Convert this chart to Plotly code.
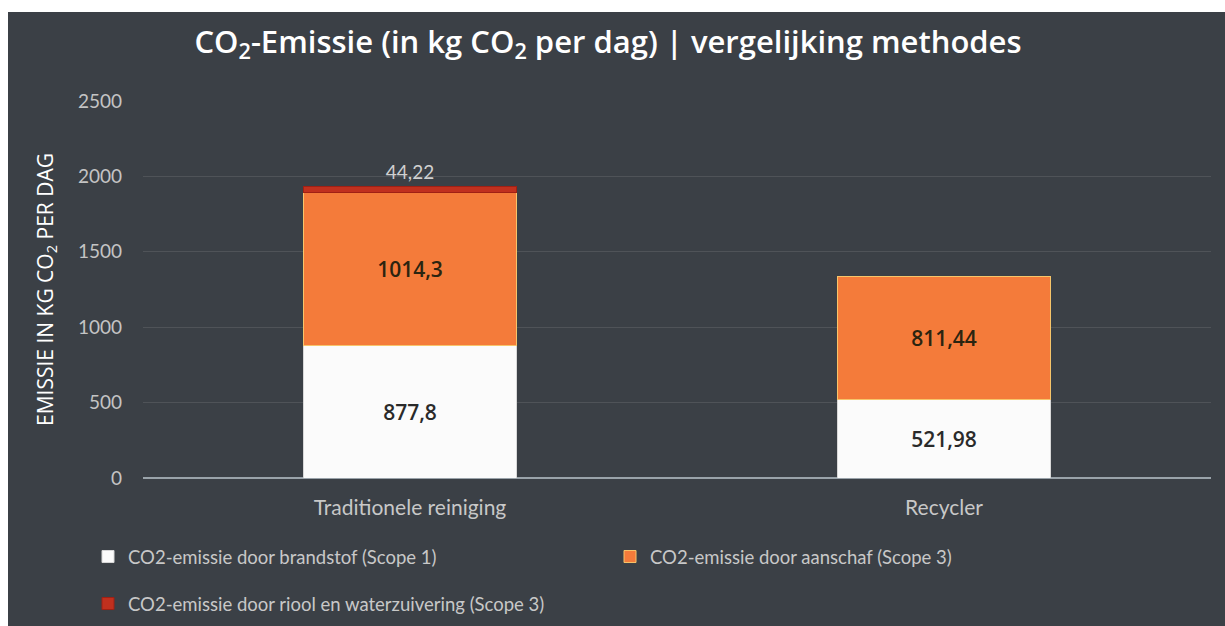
import plotly.graph_objects as go

categories = ["Traditionele reiniging", "Recycler"]
scope1_brandstof = [877.8, 521.98]
scope3_aanschaf = [1014.3, 811.44]
scope3_riool = [44.22, None]
series_names = [
    "CO2-emissie door brandstof (Scope 1)",
    "CO2-emissie door aanschaf (Scope 3)",
    "CO2-emissie door riool en waterzuivering (Scope 3)",
]
y_ticks = [0, 500, 1000, 1500, 2000, 2500]

W, H = 1225, 626
L, R, T, B = 143, 14, 101, 148
pw, ph = W - L - R, H - T - B

def px_to_paper_x(p):
    return (p - L) / pw

def px_to_paper_y(p):
    return (H - B - p) / ph

def fmt(v):
    if v is None:
        return ""
    return ("%g" % v).replace(".", ",")

fig = go.Figure()
fig.add_trace(go.Bar(
    x=categories, y=scope1_brandstof, name=series_names[0],
    marker=dict(color="#fbfbfb", line=dict(color="#d8d8d8", width=1)),
    text=[fmt(v) for v in scope1_brandstof], textposition="inside",
    insidetextanchor="middle",
    textfont=dict(color="#2a2a2a", size=21, family="Open Sans", weight=600),
    legend="legend",
))
fig.add_trace(go.Bar(
    x=categories, y=scope3_aanschaf, name=series_names[1],
    marker=dict(color="#f47b3a", line=dict(color="#f7c56a", width=1)),
    text=[fmt(v) for v in scope3_aanschaf], textposition="inside",
    insidetextanchor="middle",
    textfont=dict(color="#2a2410", size=21, family="Open Sans", weight=600),
    legend="legend",
))
fig.add_trace(go.Bar(
    x=categories, y=scope3_riool, name=series_names[2],
    marker=dict(color="#c0301e", line=dict(color="#a02014", width=1)),
    text=[fmt(v) for v in scope3_riool], textposition="outside",
    textfont=dict(color="#d0d0d0", size=19, family="Lato"),
    cliponaxis=False,
    legend="legend2",
))

bg = "#3b4046"
fig.add_shape(type="rect", xref="paper", yref="paper", layer="below",
              x0=px_to_paper_x(8), x1=px_to_paper_x(W + 2),
              y0=px_to_paper_y(H + 2), y1=px_to_paper_y(12),
              fillcolor=bg, line=dict(width=0))

fig.update_layout(
    width=W, height=H,
    margin=dict(l=L, r=R, t=T, b=B, autoexpand=False),
    paper_bgcolor="white", plot_bgcolor="rgba(0,0,0,0)",
    barmode="stack", bargap=0.6,
    separators=",.",
    title=dict(
        text="CO<sub>2</sub>-Emissie (in kg CO<sub>2</sub> per dag) | vergelijking methodes",
        xref="container", x=608 / W, xanchor="center",
        yref="container", y=1 - 42 / H, yanchor="middle",
        font=dict(color="white", size=31, family="Open Sans", weight=600),
    ),
    font=dict(family="Open Sans", color="#c8c8c8"),
    xaxis=dict(
        showgrid=False, ticks="", showline=False, automargin=False,
        tickfont=dict(size=21, color="#c8c8c8", family="Lato"),
        ticklabelstandoff=15,
    ),
    yaxis=dict(
        range=[0, 2500], tickvals=y_ticks, ticktext=[str(v) for v in y_ticks],
        showgrid=True, gridcolor="rgba(255,255,255,0.10)", gridwidth=1,
        zeroline=True, zerolinecolor="#9aa3aa", zerolinewidth=2,
        automargin=False,
        tickfont=dict(size=19, color="#c4c4c4", family="Lato"),
        ticklabelstandoff=20,
        title=dict(text="EMISSIE IN KG CO<sub>2</sub> PER DAG",
                   font=dict(size=21, color="white", family="Open Sans"),
                   standoff=18),
    ),
    legend=dict(
        orientation="h", x=px_to_paper_x(88), xanchor="left",
        y=px_to_paper_y(538), yanchor="top",
        font=dict(size=18.5, color="#c8c8c8", family="Lato"),
        bgcolor="rgba(0,0,0,0)", entrywidth=477, entrywidthmode="pixels",
        traceorder="normal",
    ),
    legend2=dict(
        orientation="h", x=px_to_paper_x(88), xanchor="left",
        y=px_to_paper_y(585), yanchor="top",
        font=dict(size=18.5, color="#c8c8c8", family="Lato"),
        bgcolor="rgba(0,0,0,0)",
    ),
    showlegend=True,
)

fig.write_html(
    "out.html",
    config={"displayModeBar": False},
    post_script="document.body.style.margin='0';document.body.style.overflow='hidden';",
)
